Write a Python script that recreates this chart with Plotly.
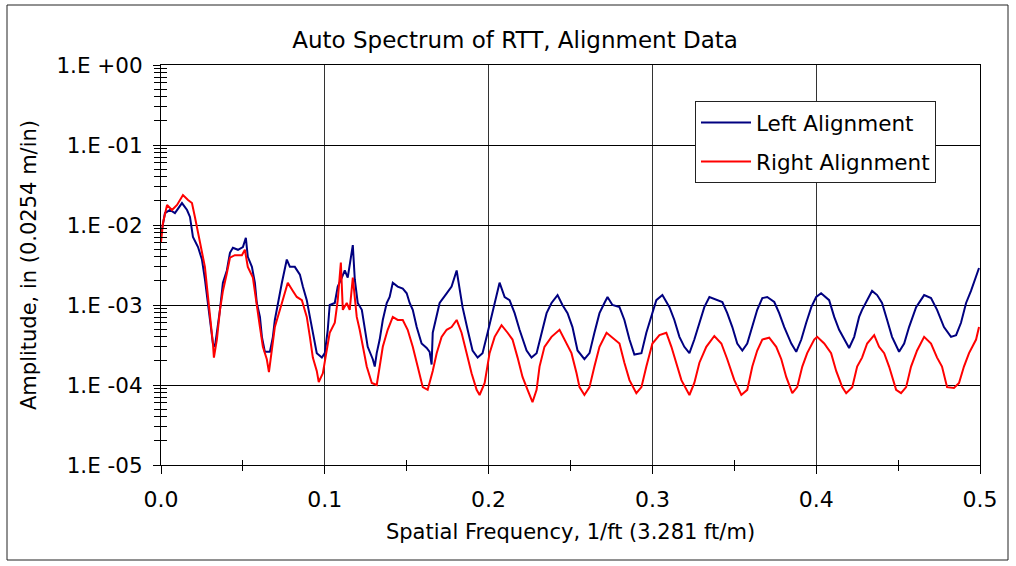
import plotly.graph_objects as go

# ---------------- data ----------------
left_freq = [0, 0.0024, 0.0055, 0.0085, 0.0128, 0.0159, 0.0177, 0.0195, 0.0226, 0.0250,
             0.0268, 0.0287, 0.0299, 0.0317, 0.0329, 0.0341, 0.0360, 0.0378, 0.0402, 0.0421,
             0.0439, 0.0470, 0.0500, 0.0518, 0.0530, 0.0555, 0.0573, 0.0585, 0.0604, 0.0616,
             0.0634, 0.0665, 0.0683, 0.0695, 0.0713, 0.0738, 0.0768, 0.0787, 0.0817, 0.0848,
             0.0866, 0.0890, 0.0909, 0.0927, 0.0951, 0.0982, 0.1000, 0.1018, 0.1030, 0.1061,
             0.1079, 0.1104, 0.1122, 0.1140, 0.1165, 0.1171, 0.1183, 0.1201, 0.1226, 0.1244,
             0.1262, 0.1293, 0.1305, 0.1317, 0.1335, 0.1354, 0.1378, 0.1396, 0.1415, 0.1445,
             0.1476, 0.1500, 0.1518, 0.1537, 0.1561, 0.1591, 0.1622, 0.1640, 0.1652, 0.1659,
             0.1683, 0.1701, 0.1744, 0.1774, 0.1805, 0.1823, 0.1841, 0.1872, 0.1902, 0.1933,
             0.1963, 0.1994, 0.2024, 0.2055, 0.2067, 0.2098, 0.2128, 0.2159, 0.2189, 0.2232,
             0.2262, 0.2293, 0.2323, 0.2354, 0.2384, 0.2421, 0.2451, 0.2482, 0.2512, 0.2543,
             0.2585, 0.2616, 0.2646, 0.2677, 0.2707, 0.2726, 0.2756, 0.2799, 0.2829, 0.2860,
             0.2890, 0.2933, 0.2963, 0.2994, 0.3024, 0.3061, 0.3104, 0.3134, 0.3165, 0.3195,
             0.3226, 0.3256, 0.3287, 0.3317, 0.3348, 0.3396, 0.3427, 0.3457, 0.3488, 0.3518,
             0.3549, 0.3579, 0.3610, 0.3640, 0.3671, 0.3701, 0.3744, 0.3774, 0.3805, 0.3848,
             0.3878, 0.3909, 0.3939, 0.3970, 0.4000, 0.4030, 0.4079, 0.4110, 0.4140, 0.4171,
             0.4201, 0.4232, 0.4262, 0.4280, 0.4311, 0.4341, 0.4372, 0.4402, 0.4433, 0.4463,
             0.4506, 0.4537, 0.4567, 0.4610, 0.4659, 0.4701, 0.4738, 0.4780, 0.4823, 0.4854,
             0.4884, 0.4915, 0.4945, 0.4976, 0.4994]
left_amp = [7.5e-3, 1.41e-2, 1.54e-2, 1.41e-2, 1.88e-2, 1.54e-2, 1.26e-2, 7.1e-3, 5.3e-3, 3.7e-3,
            2.1e-3, 1.06e-3, 6.0e-4, 3.3e-4, 3.0e-4, 4.5e-4, 8.7e-4, 1.9e-3, 2.7e-3, 4.5e-3,
            5.2e-3, 4.9e-3, 5.3e-3, 6.9e-3, 4.0e-3, 3.0e-3, 1.9e-3, 1.06e-3, 7.1e-4, 4.0e-4,
            2.6e-4, 2.6e-4, 4.0e-4, 6.5e-4, 1.06e-3, 1.9e-3, 3.7e-3, 3.0e-3, 3.0e-3, 2.4e-3,
            1.7e-3, 1.15e-3, 7.1e-4, 4.5e-4, 2.5e-4, 2.2e-4, 2.5e-4, 4.9e-4, 1.0e-3, 1.06e-3,
            1.7e-3, 2.2e-3, 2.7e-3, 2.2e-3, 4.5e-3, 5.6e-3, 2.1e-3, 1.06e-3, 8.7e-4, 4.9e-4,
            3.0e-4, 2.1e-4, 1.7e-4, 2.5e-4, 3.7e-4, 6.5e-4, 1.06e-3, 1.26e-3, 1.9e-3, 1.7e-3,
            1.6e-3, 1.4e-3, 1.06e-3, 8.7e-4, 5.3e-4, 3.3e-4, 2.9e-4, 2.6e-4, 1.8e-4, 4.5e-4,
            7.1e-4, 1.06e-3, 1.4e-3, 1.7e-3, 2.7e-3, 1.5e-3, 9.4e-4, 4.9e-4, 2.7e-4, 2.2e-4,
            2.5e-4, 4.5e-4, 7.9e-4, 1.4e-3, 1.9e-3, 1.26e-3, 1.15e-3, 7.9e-4, 4.9e-4, 2.7e-4,
            2.2e-4, 2.5e-4, 4.5e-4, 7.9e-4, 1.06e-3, 1.33e-3, 1.0e-3, 7.9e-4, 5.3e-4, 2.7e-4,
            2.1e-4, 2.5e-4, 4.5e-4, 7.9e-4, 1.06e-3, 1.26e-3, 1.0e-3, 9.4e-4, 6.5e-4, 3.7e-4,
            2.4e-4, 2.5e-4, 4.5e-4, 7.5e-4, 1.15e-3, 1.33e-3, 9.4e-4, 6.5e-4, 4.0e-4, 3.0e-4,
            2.5e-4, 3.7e-4, 6.0e-4, 9.4e-4, 1.26e-3, 1.15e-3, 1.09e-3, 7.9e-4, 5.3e-4, 3.3e-4,
            2.7e-4, 3.3e-4, 5.3e-4, 8.7e-4, 1.22e-3, 1.26e-3, 1.09e-3, 7.9e-4, 5.3e-4, 3.3e-4,
            2.6e-4, 3.7e-4, 6.0e-4, 9.4e-4, 1.26e-3, 1.4e-3, 1.15e-3, 7.1e-4, 4.9e-4, 3.7e-4,
            2.9e-4, 4.0e-4, 7.1e-4, 8.7e-4, 1.15e-3, 1.5e-3, 1.33e-3, 1.06e-3, 6.5e-4, 4.0e-4,
            2.6e-4, 3.3e-4, 5.3e-4, 9.4e-4, 1.33e-3, 1.22e-3, 8.7e-4, 5.3e-4, 4.0e-4, 4.2e-4,
            6.0e-4, 1.06e-3, 1.5e-3, 2.2e-3, 2.9e-3]

right_freq = [0, 0.0012, 0.0037, 0.0067, 0.0098, 0.0134, 0.0165, 0.0189, 0.0207, 0.0226,
              0.0250, 0.0268, 0.0287, 0.0305, 0.0317, 0.0323, 0.0341, 0.0360, 0.0378, 0.0402,
              0.0421, 0.0451, 0.0494, 0.0512, 0.0530, 0.0561, 0.0585, 0.0604, 0.0622, 0.0646,
              0.0659, 0.0677, 0.0695, 0.0726, 0.0756, 0.0774, 0.0805, 0.0829, 0.0860, 0.0890,
              0.0909, 0.0927, 0.0951, 0.0963, 0.0988, 0.1012, 0.1030, 0.1061, 0.1079, 0.1098,
              0.1110, 0.1134, 0.1152, 0.1171, 0.1195, 0.1213, 0.1232, 0.1256, 0.1287, 0.1317,
              0.1335, 0.1354, 0.1384, 0.1415, 0.1445, 0.1476, 0.1506, 0.1537, 0.1567, 0.1598,
              0.1628, 0.1659, 0.1683, 0.1713, 0.1744, 0.1774, 0.1805, 0.1835, 0.1866, 0.1896,
              0.1927, 0.1945, 0.1976, 0.2006, 0.2037, 0.2079, 0.2116, 0.2146, 0.2177, 0.2207,
              0.2238, 0.2268, 0.2293, 0.2311, 0.2341, 0.2384, 0.2433, 0.2476, 0.2506, 0.2537,
              0.2555, 0.2585, 0.2616, 0.2646, 0.2677, 0.2720, 0.2756, 0.2799, 0.2829, 0.2860,
              0.2902, 0.2933, 0.2963, 0.3000, 0.3043, 0.3085, 0.3116, 0.3146, 0.3177, 0.3226,
              0.3256, 0.3287, 0.3329, 0.3378, 0.3421, 0.3457, 0.3500, 0.3543, 0.3579, 0.3610,
              0.3640, 0.3671, 0.3713, 0.3756, 0.3787, 0.3817, 0.3854, 0.3884, 0.3915, 0.3945,
              0.3988, 0.4006, 0.4049, 0.4091, 0.4122, 0.4159, 0.4183, 0.4220, 0.4250, 0.4280,
              0.4311, 0.4354, 0.4384, 0.4415, 0.4445, 0.4488, 0.4518, 0.4549, 0.4579, 0.4616,
              0.4659, 0.4701, 0.4738, 0.4768, 0.4799, 0.4841, 0.4872, 0.4902, 0.4933, 0.4976,
              0.4994]
right_amp = [6.1e-3, 1.06e-2, 1.78e-2, 1.54e-2, 1.78e-2, 2.37e-2, 2.05e-2, 1.88e-2, 1.26e-2, 7.9e-3,
             4.9e-3, 3.0e-3, 1.26e-3, 6.0e-4, 3.3e-4, 2.2e-4, 3.7e-4, 8.7e-4, 1.5e-3, 2.5e-3,
             3.9e-3, 4.2e-3, 4.2e-3, 4.9e-3, 3.0e-3, 2.2e-3, 9.4e-4, 5.3e-4, 3.0e-4, 2.1e-4,
             1.45e-4, 2.7e-4, 5.3e-4, 8.7e-4, 1.4e-3, 1.9e-3, 1.5e-3, 1.26e-3, 1.15e-3, 7.1e-4,
             4.0e-4, 2.2e-4, 1.5e-4, 1.09e-4, 1.4e-4, 2.7e-4, 4.5e-4, 6.0e-4, 1.15e-3, 3.4e-3,
             8.7e-4, 1.06e-3, 8.7e-4, 2.2e-3, 7.1e-4, 4.9e-4, 3.0e-4, 1.7e-4, 1.06e-4, 1.0e-4,
             1.7e-4, 3.0e-4, 4.9e-4, 7.1e-4, 6.5e-4, 6.5e-4, 4.9e-4, 3.0e-4, 1.7e-4, 9.4e-5,
             8.7e-5, 1.5e-4, 2.5e-4, 4.0e-4, 4.9e-4, 5.3e-4, 6.5e-4, 4.5e-4, 2.5e-4, 1.4e-4,
             8.7e-5, 7.5e-5, 1.06e-4, 2.5e-4, 4.0e-4, 5.6e-4, 4.5e-4, 3.7e-4, 2.2e-4, 1.26e-4,
             8.7e-5, 6.1e-5, 8.7e-5, 1.7e-4, 3.0e-4, 4.0e-4, 4.9e-4, 3.3e-4, 2.5e-4, 1.4e-4,
             9.4e-5, 7.5e-5, 9.4e-5, 1.7e-4, 3.0e-4, 4.5e-4, 3.9e-4, 3.3e-4, 1.9e-4, 1.15e-4,
             7.9e-5, 9.4e-5, 1.7e-4, 3.3e-4, 4.2e-4, 4.5e-4, 3.0e-4, 1.9e-4, 1.15e-4, 7.5e-5,
             1.06e-4, 1.9e-4, 3.0e-4, 4.1e-4, 3.3e-4, 2.1e-4, 1.15e-4, 7.5e-5, 8.7e-5, 1.7e-4,
             2.7e-4, 3.7e-4, 3.9e-4, 3.0e-4, 2.1e-4, 1.26e-4, 7.9e-5, 9.4e-5, 1.7e-4, 2.5e-4,
             3.7e-4, 4.0e-4, 3.3e-4, 2.5e-4, 1.5e-4, 9.4e-5, 7.9e-5, 9.4e-5, 1.7e-4, 2.2e-4,
             3.3e-4, 4.2e-4, 3.0e-4, 2.5e-4, 1.7e-4, 8.7e-5, 7.9e-5, 9.4e-5, 1.7e-4, 2.7e-4,
             4.0e-4, 3.3e-4, 2.2e-4, 1.7e-4, 9.4e-5, 9.2e-5, 1.06e-4, 1.7e-4, 2.5e-4, 3.7e-4,
             5.3e-4]

x_tick_vals = [0.0, 0.1, 0.2, 0.3, 0.4, 0.5]
x_tick_text = ["0.0", "0.1", "0.2", "0.3", "0.4", "0.5"]
x_minor_vals = [0.05, 0.15, 0.25, 0.35, 0.45]
y_tick_vals = [1e-5, 1e-4, 1e-3, 1e-2, 1e-1, 1e0]
y_tick_text = ["1.E -05", "1.E -04", "1.E -03", "1.E -02", "1.E -01", "1.E +00"]
y_minor_vals = [m * 10.0 ** e for e in range(-5, 0) for m in range(2, 10)]

FONT = "DejaVu Sans"

fig = go.Figure()
fig.add_trace(go.Scatter(x=left_freq, y=left_amp, mode="lines", name="Left Alignment",
                         line=dict(color="#000080", width=2), legendgroup="a"))
fig.add_trace(go.Scatter(x=right_freq, y=right_amp, mode="lines", name="Right Alignment",
                         line=dict(color="#FF0000", width=2), legendgroup="b"))
# invisible helper trace so the overlay axes (inner half of crossing minor ticks) render
fig.add_trace(go.Scatter(x=left_freq, y=left_amp, xaxis="x2", yaxis="y2", mode="lines",
                         line=dict(width=0, color="rgba(0,0,0,0)"), showlegend=False,
                         hoverinfo="skip"))

fig.update_layout(
    width=1016, height=566,
    margin=dict(l=161, r=36, t=65, b=101, autoexpand=False),
    paper_bgcolor="white", plot_bgcolor="white",
    font=dict(family=FONT, color="black"),
    title=dict(text="Auto Spectrum of RTT, Alignment Data", x=0.507, xref="container",
               xanchor="center", y=1 - 40 / 566, yref="container", yanchor="middle",
               font=dict(family=FONT, size=23, color="black")),
    xaxis=dict(range=[0, 0.5], tickvals=x_tick_vals, ticktext=x_tick_text,
               ticks="outside", ticklen=8, tickcolor="black", tickwidth=1,
               tickfont=dict(family=FONT, size=22), ticklabelstandoff=7,
               showline=True, linecolor="black", linewidth=1, mirror=True,
               showgrid=True, gridcolor="#333", gridwidth=1, zeroline=False,
               minor=dict(tickvals=x_minor_vals, ticks="outside", ticklen=5,
                          tickcolor="black", showgrid=False),
               title=dict(text="Spatial Frequency, 1/ft (3.281 ft/m)",
                          font=dict(family=FONT, size=21), standoff=12),
               automargin=False),
    yaxis=dict(type="log", range=[-5, 0], tickvals=y_tick_vals, ticktext=y_tick_text,
               ticks="outside", ticklen=7, tickcolor="black", tickwidth=1,
               tickfont=dict(family=FONT, size=21.5), ticklabelstandoff=6,
               showline=True, linecolor="black", linewidth=1, mirror=True,
               showgrid=True, gridcolor="black", gridwidth=1, zeroline=False,
               minor=dict(tickvals=y_minor_vals, ticks="outside", ticklen=6,
                          tickcolor="black", showgrid=False),
               title=dict(text="Amplitude, in (0.0254 m/in)",
                          font=dict(family=FONT, size=21), standoff=14),
               automargin=False),
    xaxis2=dict(overlaying="x", anchor="y2", side="bottom", range=[0, 0.5],
                showticklabels=False, ticks="", showgrid=False, showline=False,
                zeroline=False,
                minor=dict(tickvals=x_minor_vals, ticks="inside", ticklen=5,
                           tickcolor="black", showgrid=False)),
    yaxis2=dict(overlaying="y", anchor="x2", side="left", type="log", range=[-5, 0],
                showticklabels=False, ticks="", showgrid=False, showline=False,
                zeroline=False,
                minor=dict(tickvals=y_minor_vals, ticks="inside", ticklen=6,
                           tickcolor="black", showgrid=False)),
    legend=dict(x=(695 - 161) / 819, y=(465 - 101) / 400, xanchor="left", yanchor="top",
                bgcolor="white", bordercolor="#222", borderwidth=1,
                font=dict(family=FONT, size=21.5, color="black"),
                itemwidth=50, traceorder="grouped", tracegroupgap=8),
    showlegend=True,
    shapes=[dict(type="rect", xref="paper", yref="paper",
                 x0=(7 - 161) / 819, x1=(1008 - 161) / 819,
                 y0=(465 - 560) / 400, y1=(465 - 5) / 400,
                 line=dict(color="#222", width=1), fillcolor="rgba(0,0,0,0)",
                 layer="below")],
)

fig.write_html("out.html")
